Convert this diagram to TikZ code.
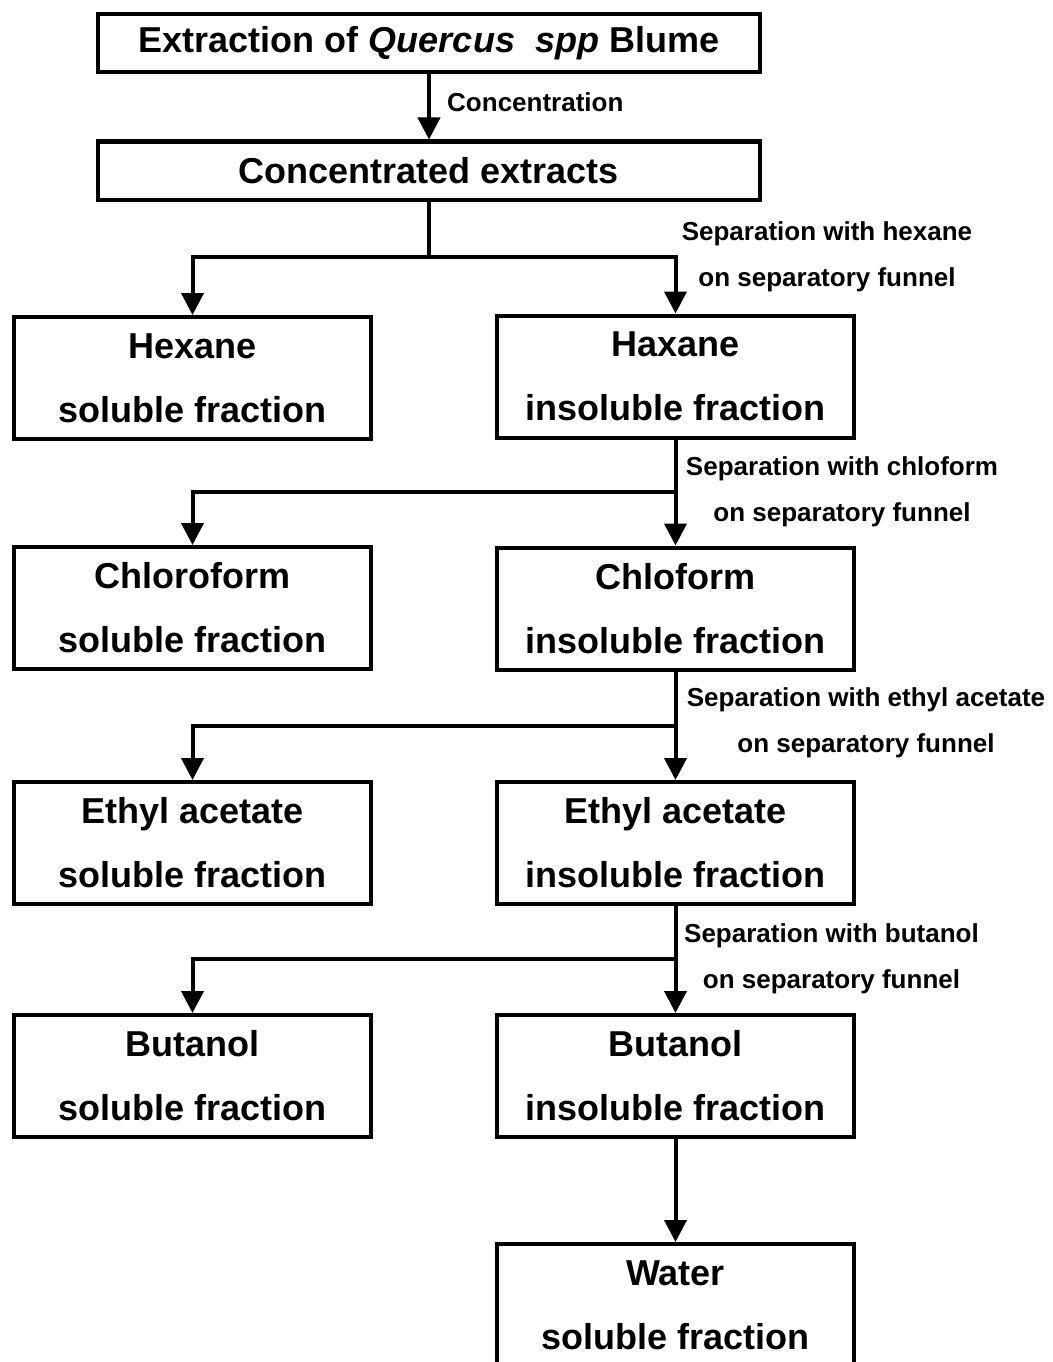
\documentclass[tikz,border=0pt]{standalone}
\usepackage{fontspec}
\setmainfont{Liberation Sans}
\usetikzlibrary{arrows.meta}
\begin{document}
\begin{tikzpicture}[x=1pt,y=-1pt,
  box/.style={draw, line width=4pt, inner sep=0pt, align=center,
    font=\bfseries\fontsize{36}{64}\selectfont},
  widebox/.style={box, minimum width=662pt, minimum height=58pt},
  fracbox/.style={box, minimum width=357pt, minimum height=122pt},
  lbl/.style={inner sep=0pt, align=center, font=\bfseries\fontsize{26}{46}\selectfont},
  conn/.style={line width=4pt},
  arr/.style={conn, -{Triangle[width=22pt,length=22pt]}}]
\useasboundingbox (0,0) rectangle (1052,1362);

\node[widebox] (top) at (429,43.5) {Extraction of \textit{Quercus}\ \ \textit{spp} Blume};
\node[widebox] (conc) at (429,170.5) {Concentrated extracts};

\node[fracbox] (L1) at (192.5,378) {Hexane\\soluble fraction};
\node[fracbox] (R1) at (675.5,376.5) {Haxane\\insoluble fraction};
\node[fracbox] (L2) at (192.5,608) {Chloroform\\soluble fraction};
\node[fracbox] (R2) at (675.5,608.5) {Chloform\\insoluble fraction};
\node[fracbox] (L3) at (192.5,843) {Ethyl acetate\\soluble fraction};
\node[fracbox] (R3) at (675.5,843) {Ethyl acetate\\insoluble fraction};
\node[fracbox] (L4) at (192.5,1076) {Butanol\\soluble fraction};
\node[fracbox] (R4) at (675.5,1076) {Butanol\\insoluble fraction};
\node[fracbox] (W) at (675.5,1305) {Water\\soluble fraction};

\node[lbl, anchor=west] (cl) at (447,102) {Concentration};
\node[lbl] (s1) at (827,256.5) {Separation with hexane\\on separatory funnel};
\node[lbl] (s2) at (842,492) {Separation with chloform\\on separatory funnel};
\node[lbl] (s3) at (866,722.5) {Separation with ethyl acetate\\on separatory funnel};
\node[lbl] (s4) at (831.5,958.5) {Separation with butanol\\on separatory funnel};

\draw[arr] (top) -- (conc);

\draw[conn] (conc.south) -- ++(0,55) coordinate (j1);
\draw[arr] (j1) -| (L1.north);
\draw[arr] (j1) -| (R1.north);

\draw[arr] (R1.south) -- (R2.north);
\path (R1.south) ++(0,52) coordinate (j2);
\draw[arr] (j2) -| (L2.north);

\draw[arr] (R2.south) -- (R3.north);
\path (R2.south) ++(0,54) coordinate (j3);
\draw[arr] (j3) -| (L3.north);

\draw[arr] (R3.south) -- (R4.north);
\path (R3.south) ++(0,53) coordinate (j4);
\draw[arr] (j4) -| (L4.north);

\draw[arr] (R4.south) -- (W.north);
\end{tikzpicture}
\end{document}
